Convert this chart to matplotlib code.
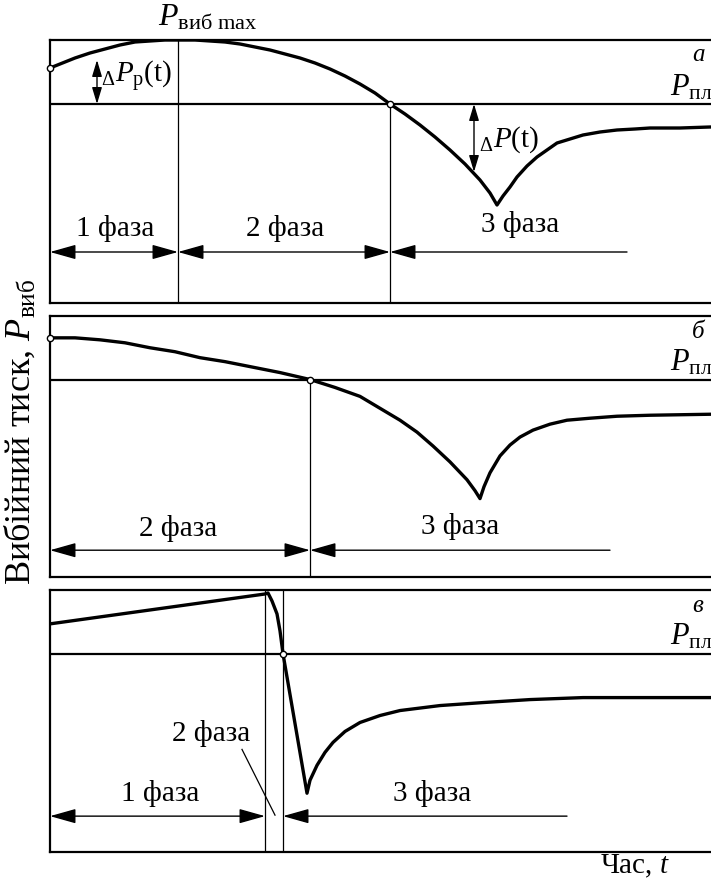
import numpy as np
import matplotlib.pyplot as plt

plt.rcParams['font.family'] = ['Liberation Serif', 'DejaVu Serif']
plt.rcParams['mathtext.fontset'] = 'custom'
plt.rcParams['mathtext.rm'] = 'Liberation Serif'
plt.rcParams['mathtext.it'] = 'Liberation Serif:italic'

# time axis in arbitrary units, pressure relative to P_pl (P_pl = 0)
T_MAX = 72
P_MIN, P_MAX = -19.9, 6.4

# panel a
ta = [0, 1, 2.5, 4, 5.5, 7, 8.5, 10, 11.5, 12.8, 14.5, 16, 17.5, 19, 20.5, 22, 23.5,
      25, 26.5, 28, 29.5, 31, 32.5, 34, 35.5, 37, 38.5, 40, 41.5, 43, 44, 44.7,
      45.3, 46, 46.7, 47.7, 48.7, 49.7, 50.7, 52, 53.3, 55, 56.7, 58.5, 60, 63, 66, 72]
pa = [3.6, 4.0, 4.6, 5.1, 5.5, 5.9, 6.2, 6.3, 6.4, 6.4, 6.4, 6.3, 6.2, 6.0, 5.7, 5.4, 5.0,
      4.6, 4.1, 3.5, 2.8, 2.0, 1.1, 0, -1.0, -2.1, -3.3, -4.6, -6.0, -7.6, -8.9, -10.1,
      -9.2, -8.3, -7.3, -6.2, -5.3, -4.6, -3.9, -3.5, -3.1, -2.8, -2.6, -2.5, -2.4, -2.4, -2.3, -2.3]
a_markers_t = [0, 34]
a_markers_p = [3.6, 0]
a_vlines = [12.8, 34]
a_phases = [(0, 12.8, '1 фаза', 6.5, -12.4),
            (12.8, 34, '2 фаза', 23.5, -12.4),
            (34, 57.7, '3 фаза', 47.0, -12.0)]
a_arrow_y = -14.8

# panel б
tb = [0, 2.5, 5, 7.5, 10, 12.5, 15, 17.5, 20, 23, 26, 28.5, 31, 33.5, 35, 36.7, 38.3,
      40, 41.7, 42.5, 43, 43.4, 44, 45, 46, 47, 48.3, 50, 51.7, 54, 56.7, 60, 66, 72]
pb = [4.2, 4.2, 4.0, 3.7, 3.2, 2.8, 2.2, 1.8, 1.3, 0.7, 0, -0.8, -1.7, -3.2, -4.1, -5.3, -6.7,
      -8.3, -10.1, -11.2, -12.0, -10.8, -9.4, -7.7, -6.6, -5.8, -5.1, -4.5, -4.1, -3.9, -3.7,
      -3.6, -3.5, -3.5]
b_markers_t = [0, 26]
b_markers_p = [4.2, 0]
b_phases = [(0, 26, '2 фаза', 12.8, -15.0),
            (26, 56, '3 фаза', 41.0, -14.8)]
b_arrow_y = -17.2

# panel в
tc = [0, 21.5, 21.8, 22.2, 22.7, 23.0, 23.3, 25.7, 26.0, 26.7, 27.5, 28.3, 29.5, 31, 33,
      35, 39, 43.3, 48, 53.3, 60, 72]
pc = [3.0, 6.0, 6.1, 5.3, 4.0, 2.3, 0, -14.0, -12.7, -11.2, -9.9, -8.9, -7.8, -6.9, -6.2,
      -5.7, -5.2, -4.9, -4.6, -4.4, -4.4, -4.4]
c_markers_t = [23.3]
c_markers_p = [0]
c_vlines = [21.5, 23.3]
c_phases = [(0, 21.5, '1 фаза', 11.0, -14.0),
            (23.3, 51.7, '3 фаза', 38.2, -14.0)]
c_arrow_y = -16.3

W, H = 711, 881
fig = plt.figure(figsize=(W / 100, H / 100), dpi=100)

TXT = 21


def make_ax(top_px, bot_px):
    left_px, right_px = 50, 770
    ax = fig.add_axes([left_px / W, 1 - bot_px / H, (right_px - left_px) / W, (bot_px - top_px) / H])
    ax.set_xlim(0, T_MAX)
    ax.set_ylim(P_MIN, P_MAX)
    ax.set_xticks([])
    ax.set_yticks([])
    for s in ax.spines.values():
        s.set_linewidth(1.6)
    ax.axhline(0, color='k', lw=1.6)
    return ax


def phase_arrows(ax, phases, y):
    for i, (t0, t1, label, tx, ty) in enumerate(phases):
        # last phase has only the left arrowhead
        style = '-|>' if i == len(phases) - 1 else '<|-|>'
        ax.annotate('', xy=(t0, y), xytext=(t1, y),
                    arrowprops=dict(arrowstyle=style + ',head_length=1.6,head_width=0.45',
                                    color='k', lw=1.0, shrinkA=0, shrinkB=0))
        ax.text(tx, ty, label, ha='center', va='center', fontsize=TXT)


def side_labels(ax, letter, ly):
    ax.text(64.2, ly, letter, ha='left', va='center', fontsize=18, style='italic')
    ax.text(62, 0.9, r'$P_{\mathrm{пл}}$', ha='left', va='baseline', fontsize=22)


curve_kw = dict(color='k', lw=2.4, solid_joinstyle='round', solid_capstyle='round')
mark_kw = dict(marker='o', ms=4.5, mfc='white', mec='k', mew=1.0, ls='none', zorder=5,
               clip_on=False)
dp_arrow = dict(arrowstyle='<|-|>,head_length=1.0,head_width=0.3',
                color='k', lw=1.0, shrinkA=0, shrinkB=0)

# --- panel a ---
ax1 = make_ax(40, 303)
ax1.plot(ta, pa, **curve_kw)
ax1.plot(a_markers_t, a_markers_p, **mark_kw)
ax1.axvline(a_vlines[0], color='k', lw=0.9)
ax1.plot([a_vlines[1], a_vlines[1]], [0, P_MIN], color='k', lw=0.9)
phase_arrows(ax1, a_phases, a_arrow_y)
ax1.annotate('', xy=(4.7, 4.4), xytext=(4.7, 0), arrowprops=dp_arrow)
ax1.text(5.1, 2.7, r'${}_{\Delta}P_{\mathrm{p}}\mathrm{(t)}$', ha='left', va='center', fontsize=TXT)
ax1.annotate('', xy=(42.4, -6.8), xytext=(42.4, 0), arrowprops=dp_arrow)
ax1.text(42.9, -3.6, r'${}_{\Delta}P\mathrm{(t)}$', ha='left', va='center', fontsize=TXT)
ax1.text(15.8, 8.6, r'$P_{\mathrm{виб}\ \mathrm{max}}$', ha='center', va='center', fontsize=23,
         clip_on=False)
side_labels(ax1, 'a', 4.9)

# --- panel б ---
ax2 = make_ax(316, 577)
ax2.plot(tb, pb, **curve_kw)
ax2.plot(b_markers_t, b_markers_p, **mark_kw)
ax2.plot([b_markers_t[1], b_markers_t[1]], [0, P_MIN], color='k', lw=0.9)
phase_arrows(ax2, b_phases, b_arrow_y)
side_labels(ax2, 'б', 4.8)

# --- panel в ---
ax3 = make_ax(590, 852)
ax3.plot(tc, pc, **curve_kw)
ax3.plot(c_markers_t, c_markers_p, **mark_kw)
for v in c_vlines:
    ax3.axvline(v, color='k', lw=0.9)
phase_arrows(ax3, c_phases, c_arrow_y)
ax3.text(20.0, -8.0, '2 фаза', ha='right', va='center', fontsize=TXT)
ax3.plot([19.2, 22.5], [-9.6, -16.2], color='k', lw=0.9)
side_labels(ax3, 'в', 4.8)

fig.text(20 / W, 1 - 432 / H, r'Вибійний тиск, $P_{\mathrm{виб}}$', rotation=90,
         ha='center', va='center', fontsize=26)
fig.text(635 / W, 1 - 866 / H, r'Час, $t$', ha='center', va='center', fontsize=21)

fig.savefig('out.png', dpi=100)
